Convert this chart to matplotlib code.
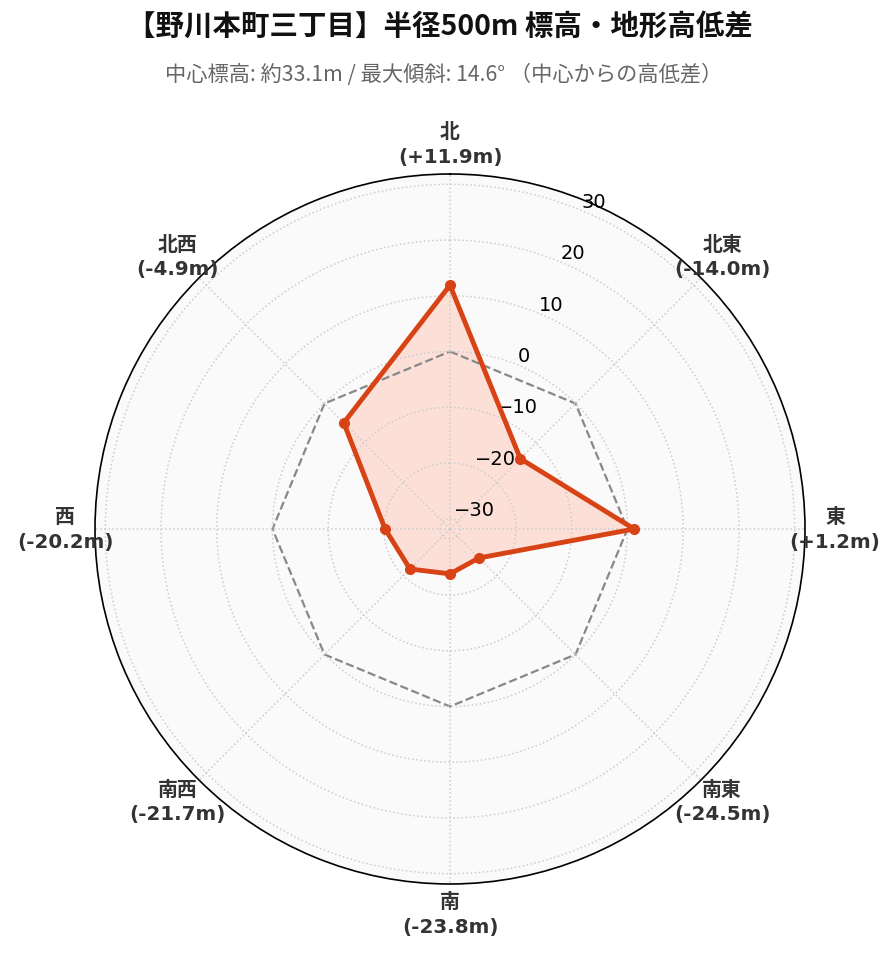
import numpy as np
import matplotlib
matplotlib.use("Agg")
import matplotlib.pyplot as plt

plt.rcParams['font.family'] = ['DejaVu Sans', 'Noto Sans CJK JP']
plt.rcParams['axes.unicode_minus'] = True

directions = ["北", "北東", "東", "南東", "南", "南西", "西", "北西"]
diffs = [11.9, -14.0, 1.2, -24.5, -23.8, -21.7, -20.2, -4.9]
rticks = [-30, -20, -10, 0, 10, 20, 30]

title = "【野川本町三丁目】半径500m 標高・地形高低差"
subtitle = "中心標高: 約33.1m / 最大傾斜: 14.6° （中心からの高低差）"

line_color = "#d84315"
fill_color = "#fce0d8"

# symmetric radial range around 0
rmax = max(abs(v) for v in diffs) * 1.3

angles = np.deg2rad(np.arange(len(directions)) * 45.0)
closed_a = np.append(angles, angles[0])
closed_v = np.append(diffs, diffs[0])

fig = plt.figure(figsize=(8.96, 9.62), dpi=100)
ax = fig.add_axes([95 / 896, 77 / 962, 710 / 896, 710 / 962], projection='polar')
ax.set_theta_zero_location('N')
ax.set_theta_direction(-1)
ax.set_ylim(-rmax, rmax)
ax.set_facecolor('#fafafa')
ax.set_axisbelow(False)

ax.fill(closed_a, closed_v, color=fill_color, zorder=1.5)
# zero reference
ax.plot(closed_a, np.zeros_like(closed_a), '--', color='#888888', lw=1.6, zorder=2)
ax.plot(closed_a, closed_v, '-', color=line_color, lw=3.5, zorder=4)
ax.plot(angles, diffs, 'o', color=line_color, ms=7, zorder=5)

ax.set_xticks(angles)
ax.set_xticklabels([])
ax.set_yticks(rticks)
ax.set_yticklabels([f"{t}".replace("-", "\u2212") for t in rticks], fontsize=14, family='DejaVu Sans')
ax.set_rlabel_position(22.5)
ax.grid(True, color='#cccccc', linestyle=':', linewidth=1.1)
ax.spines['polar'].set_color('black')
ax.spines['polar'].set_linewidth(1.2)

lab_r = 385 / 355 * 2 * rmax - rmax
for a, d, v in zip(angles, directions, diffs):
    ax.text(a, lab_r, f"{d}\n({v:+.1f}m)", ha='center', va='center',
            fontsize=14.3, fontweight='bold', color='#333333',
            linespacing=1.35, clip_on=False)

fig.text(440 / 896, 1 - 27 / 962, title, ha='center', va='center', fontsize=20.5,
         fontweight='bold', family=['Noto Sans CJK JP', 'DejaVu Sans'], color='#111111')
fig.text(444 / 896, 1 - 75 / 962, subtitle, ha='center', va='center', fontsize=15.3,
         family=['Noto Sans CJK JP', 'DejaVu Sans'], color='#666666')

fig.savefig("out.png", dpi=100)
